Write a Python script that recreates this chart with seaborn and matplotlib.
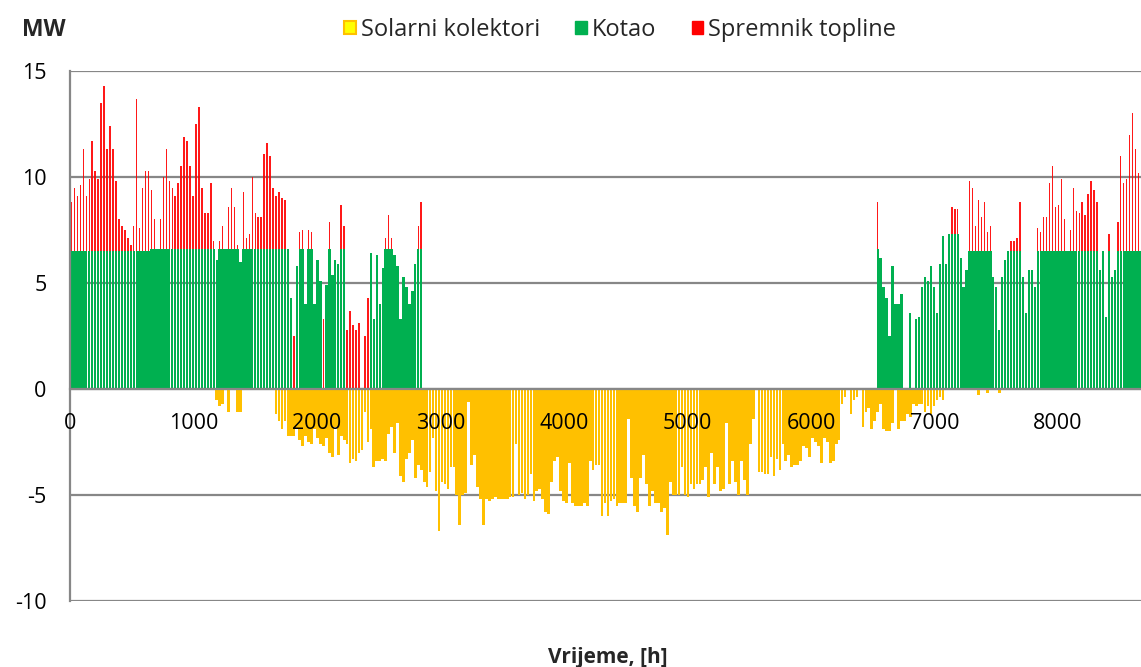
import numpy as np
import pandas as pd
import seaborn as sns
import matplotlib
matplotlib.use("Agg")
import matplotlib.pyplot as plt
from matplotlib.patches import Patch

# Daily peak output over the year (MW), one value per day
kotao = [
    6.5, 6.5, 6.5, 6.5, 6.5, 6.5, 6.5, 6.5, 6.5, 6.5,
    6.5, 6.5, 6.5, 6.5, 6.5, 6.5, 6.5, 6.5, 6.5, 6.5,
    6.5, 6.5, 6.5, 6.5, 6.5, 6.5, 6.5, 6.6, 6.6, 6.6,
    6.6, 6.6, 6.6, 6.6, 6.6, 6.6, 6.6, 6.6, 6.6, 6.6,
    6.6, 6.6, 6.6, 6.6, 6.6, 6.6, 6.6, 6.6, 6.6, 6.1,
    6.6, 6.6, 6.6, 6.6, 6.6, 6.6, 6.6, 6.0, 6.6, 6.6,
    6.6, 6.6, 6.6, 6.6, 6.6, 6.6, 6.6, 6.6, 6.6, 6.6,
    6.6, 6.6, 6.6, 6.6, 4.3, 0.0, 5.8, 6.6, 6.6, 4.0,
    6.6, 6.6, 4.0, 6.1, 5.1, 0.0, 4.9, 6.6, 5.4, 6.1,
    5.9, 6.6, 6.6, 0.0, 0.0, 0.0, 0.0, 0.0, 0.0, 0.0,
    0.0, 6.4, 3.3, 6.3, 4.0, 5.7, 6.6, 6.6, 6.6, 6.3,
    5.8, 3.3, 5.3, 4.8, 4.0, 4.6, 5.9, 6.6, 6.6, 0.0,
    0.0, 0.0, 0.0, 0.0, 0.0, 0.0, 0.0, 0.0, 0.0, 0.0,
    0.0, 0.0, 0.0, 0.0, 0.0, 0.0, 0.0, 0.0, 0.0, 0.0,
    0.0, 0.0, 0.0, 0.0, 0.0, 0.0, 0.0, 0.0, 0.0, 0.0,
    0.0, 0.0, 0.0, 0.0, 0.0, 0.0, 0.0, 0.0, 0.0, 0.0,
    0.0, 0.0, 0.0, 0.0, 0.0, 0.0, 0.0, 0.0, 0.0, 0.0,
    0.0, 0.0, 0.0, 0.0, 0.0, 0.0, 0.0, 0.0, 0.0, 0.0,
    0.0, 0.0, 0.0, 0.0, 0.0, 0.0, 0.0, 0.0, 0.0, 0.0,
    0.0, 0.0, 0.0, 0.0, 0.0, 0.0, 0.0, 0.0, 0.0, 0.0,
    0.0, 0.0, 0.0, 0.0, 0.0, 0.0, 0.0, 0.0, 0.0, 0.0,
    0.0, 0.0, 0.0, 0.0, 0.0, 0.0, 0.0, 0.0, 0.0, 0.0,
    0.0, 0.0, 0.0, 0.0, 0.0, 0.0, 0.0, 0.0, 0.0, 0.0,
    0.0, 0.0, 0.0, 0.0, 0.0, 0.0, 0.0, 0.0, 0.0, 0.0,
    0.0, 0.0, 0.0, 0.0, 0.0, 0.0, 0.0, 0.0, 0.0, 0.0,
    0.0, 0.0, 0.0, 0.0, 0.0, 0.0, 0.0, 0.0, 0.0, 0.0,
    0.0, 0.0, 0.0, 0.0, 0.0, 0.0, 0.0, 0.0, 0.0, 0.0,
    0.0, 0.0, 6.6, 6.2, 4.8, 4.3, 2.5, 5.8, 4.0, 4.0,
    4.5, 0.0, 0.0, 3.6, 0.0, 3.3, 3.4, 4.8, 5.3, 5.1,
    5.8, 4.8, 3.6, 5.9, 7.2, 5.9, 7.3, 7.3, 7.3, 7.3,
    6.2, 4.8, 5.6, 6.5, 6.5, 6.5, 6.5, 6.5, 6.5, 6.5,
    6.5, 5.3, 4.8, 2.8, 5.3, 6.1, 6.5, 6.5, 6.5, 6.5,
    6.5, 5.3, 3.6, 5.6, 5.6, 4.8, 6.5, 6.5, 6.5, 6.5,
    6.5, 6.5, 6.5, 6.5, 6.5, 6.5, 6.5, 6.5, 6.5, 6.5,
    6.5, 6.5, 6.5, 6.5, 6.5, 6.5, 6.5, 5.6, 6.5, 3.4,
    6.5, 5.3, 5.6, 6.5, 6.5, 6.5, 6.5, 6.5, 6.5, 6.5,
    6.5, 6.5, 6.5, 6.5, 6.5,
]

spremnik = [
    2.3, 3.0, 2.6, 3.1, 4.8, 2.6, 3.4, 5.2, 3.8, 3.4,
    7.0, 7.8, 4.8, 5.9, 4.8, 3.3, 1.5, 1.2, 1.0, 0.6,
    0.3, 1.2, 7.2, 1.1, 3.0, 3.8, 3.8, 2.8, 1.4, 0.0,
    1.4, 3.4, 4.7, 3.2, 2.9, 2.5, 3.1, 3.9, 5.3, 5.1,
    3.9, 2.5, 5.9, 6.7, 2.9, 1.7, 1.7, 3.1, 0.4, 0.0,
    0.4, 1.1, 0.0, 2.0, 2.9, 2.0, 0.2, 0.0, 2.7, 0.5,
    0.7, 3.4, 1.7, 1.5, 1.5, 4.5, 5.0, 4.4, 2.9, 2.5,
    2.7, 2.4, 2.3, 0.0, 0.0, 2.5, 0.0, 0.8, 0.9, 0.0,
    0.9, 0.8, 0.0, 0.0, 0.0, 3.3, 0.0, 1.3, 0.0, 0.0,
    0.0, 2.1, 1.1, 2.8, 3.7, 3.0, 2.8, 3.1, 0.0, 2.5,
    4.3, 0.0, 0.0, 0.0, 0.0, 0.0, 0.5, 1.6, 0.5, 0.0,
    0.0, 0.0, 0.0, 0.0, 0.0, 0.0, 0.0, 1.1, 2.2, 0.0,
    0.0, 0.0, 0.0, 0.0, 0.0, 0.0, 0.0, 0.0, 0.0, 0.0,
    0.0, 0.0, 0.0, 0.0, 0.0, 0.0, 0.0, 0.0, 0.0, 0.0,
    0.0, 0.0, 0.0, 0.0, 0.0, 0.0, 0.0, 0.0, 0.0, 0.0,
    0.0, 0.0, 0.0, 0.0, 0.0, 0.0, 0.0, 0.0, 0.0, 0.0,
    0.0, 0.0, 0.0, 0.0, 0.0, 0.0, 0.0, 0.0, 0.0, 0.0,
    0.0, 0.0, 0.0, 0.0, 0.0, 0.0, 0.0, 0.0, 0.0, 0.0,
    0.0, 0.0, 0.0, 0.0, 0.0, 0.0, 0.0, 0.0, 0.0, 0.0,
    0.0, 0.0, 0.0, 0.0, 0.0, 0.0, 0.0, 0.0, 0.0, 0.0,
    0.0, 0.0, 0.0, 0.0, 0.0, 0.0, 0.0, 0.0, 0.0, 0.0,
    0.0, 0.0, 0.0, 0.0, 0.0, 0.0, 0.0, 0.0, 0.0, 0.0,
    0.0, 0.0, 0.0, 0.0, 0.0, 0.0, 0.0, 0.0, 0.0, 0.0,
    0.0, 0.0, 0.0, 0.0, 0.0, 0.0, 0.0, 0.0, 0.0, 0.0,
    0.0, 0.0, 0.0, 0.0, 0.0, 0.0, 0.0, 0.0, 0.0, 0.0,
    0.0, 0.0, 0.0, 0.0, 0.0, 0.0, 0.0, 0.0, 0.0, 0.0,
    0.0, 0.0, 0.0, 0.0, 0.0, 0.0, 0.0, 0.0, 0.0, 0.0,
    0.0, 0.0, 2.2, 0.0, 0.0, 0.0, 0.0, 0.0, 0.0, 0.0,
    0.0, 0.0, 0.0, 0.0, 0.0, 0.0, 0.0, 0.0, 0.0, 0.0,
    0.0, 0.0, 0.0, 0.0, 0.0, 0.0, 0.0, 1.3, 1.2, 1.2,
    0.0, 0.0, 0.0, 3.3, 3.0, 1.2, 2.4, 1.6, 2.3, 0.9,
    1.2, 0.0, 0.0, 0.0, 0.0, 0.0, 0.0, 0.5, 0.5, 0.6,
    2.3, 0.0, 0.0, 0.0, 0.0, 0.0, 1.1, 0.9, 1.6, 1.6,
    3.2, 4.0, 2.1, 2.2, 3.4, 1.5, 0.0, 1.0, 3.0, 1.9,
    1.8, 2.3, 1.7, 2.7, 3.3, 2.9, 2.3, 0.0, 0.0, 0.0,
    0.8, 0.0, 0.0, 1.4, 4.5, 3.2, 3.4, 5.5, 6.5, 4.8,
    3.7, 3.4, 3.0, 2.6, 2.5,
]

solarni = [
    0.0, 0.0, 0.0, 0.0, 0.0, 0.0, 0.0, 0.0, 0.0, 0.0,
    0.0, 0.0, 0.0, 0.0, 0.0, 0.0, 0.0, 0.0, 0.0, 0.0,
    0.0, 0.0, 0.0, 0.0, 0.0, 0.0, 0.0, 0.0, 0.0, 0.0,
    0.0, 0.0, 0.0, 0.0, 0.0, 0.0, 0.0, 0.0, 0.0, 0.0,
    0.0, 0.0, 0.0, 0.0, 0.0, 0.0, 0.0, 0.0, 0.0, -0.5,
    -0.8, -0.7, 0.0, -1.1, 0.0, 0.0, -1.1, -1.1, 0.0, 0.0,
    0.0, 0.0, 0.0, 0.0, 0.0, 0.0, 0.0, 0.0, 0.0, -1.2,
    -1.5, -1.9, -1.5, -2.2, -2.2, -2.2, -1.9, -2.4, -2.7, -2.2,
    -2.5, -2.6, -1.9, -2.3, -2.6, -2.7, -2.3, -3.0, -3.2, -1.8,
    -3.1, -2.2, -2.4, -2.6, -3.5, -3.3, -3.4, -3.0, -2.9, -1.1,
    -2.5, -1.9, -3.7, -3.4, -3.4, -3.3, -3.4, -2.1, -1.8, -3.0,
    -1.6, -4.1, -4.4, -3.3, -3.0, -2.4, -4.2, -3.6, -3.8, -4.4,
    -4.6, -3.9, -2.3, -4.8, -6.7, -4.4, -4.5, -4.7, -3.7, -3.7,
    -5.0, -6.4, -5.0, -4.9, -0.6, -3.6, -3.1, -4.6, -5.2, -6.4,
    -5.2, -5.3, -5.2, -5.1, -5.2, -5.2, -5.2, -5.2, -5.1, -5.1,
    -2.6, -5.0, -4.9, -5.2, -5.0, -4.0, -5.3, -4.8, -4.7, -5.2,
    -5.8, -5.9, -4.4, -3.4, -3.2, -4.8, -5.3, -5.4, -3.5, -5.4,
    -5.5, -5.5, -5.5, -5.4, -5.5, -3.4, -3.8, -3.6, -3.6, -6.0,
    -5.4, -6.0, -5.3, -5.2, -5.5, -5.4, -5.4, -5.4, -1.4, -4.2,
    -5.5, -5.8, -4.2, -3.1, -4.5, -5.5, -4.8, -5.4, -5.4, -5.8,
    -5.6, -6.9, -4.4, -5.0, -5.0, -5.0, -3.7, -5.0, -5.1, -4.5,
    -4.7, -4.5, -4.5, -4.3, -3.7, -5.1, -3.0, -4.5, -3.7, -4.8,
    -4.7, -1.6, -4.5, -3.4, -4.4, -5.0, -3.4, -4.3, -5.0, -2.6,
    -1.4, 0.0, -3.9, -3.9, -4.0, -4.0, -3.2, -4.1, -3.3, -3.8,
    -2.6, -3.4, -3.1, -3.7, -3.6, -3.6, -3.4, -2.7, -2.8, -3.2,
    -2.3, -2.5, -2.7, -3.5, -2.3, -2.5, -3.5, -3.4, -2.6, -2.4,
    -0.7, -0.4, 0.0, -1.2, -0.5, -0.4, 0.0, -1.8, -1.1, -0.9,
    -1.9, -1.5, -1.1, -0.7, -1.9, -2.0, -2.0, -1.6, 0.0, -1.9,
    -1.5, -1.5, -1.2, -1.3, -0.7, -0.8, -0.7, -0.7, -1.1, -0.8,
    -1.2, -0.8, -0.5, -0.4, -0.5, 0.0, 0.0, 0.0, 0.0, 0.0,
    0.0, 0.0, 0.0, 0.0, 0.0, 0.0, -0.3, 0.0, 0.0, -0.2,
    0.0, 0.0, 0.0, -0.2, 0.0, 0.0, 0.0, 0.0, 0.0, 0.0,
    0.0, 0.0, 0.0, 0.0, 0.0, 0.0, 0.0, 0.0, 0.0, 0.0,
    0.0, 0.0, 0.0, 0.0, 0.0, 0.0, 0.0, 0.0, 0.0, 0.0,
    0.0, 0.0, 0.0, 0.0, 0.0, 0.0, 0.0, 0.0, 0.0, 0.0,
    0.0, 0.0, 0.0, 0.0, 0.0, 0.0, 0.0, 0.0, 0.0, 0.0,
    0.0, 0.0, 0.0, 0.0, 0.0,
]

series_names = ["Solarni kolektori", "Kotao", "Spremnik topline"]
x_ticks = [0, 1000, 2000, 3000, 4000, 5000, 6000, 7000, 8000]
y_ticks = [-10, -5, 0, 5, 10, 15]

# Each daily value sits at the middle of its day on the hour axis
hours = np.arange(len(kotao)) * 24 + 12
df = pd.DataFrame({
    "sat": hours,
    "kotao": kotao,
    "spremnik": spremnik,
    "solarni": solarni,
})
df["ukupno"] = df["kotao"] + df["spremnik"]

C_SOLAR = "#FFC000"
C_SOLAR_LEG = "#FFFF00"
C_KOTAO = "#00B050"
C_SPREM = "#FF0000"
GRID = "#878787"

sns.set_theme(style="white")
plt.rcParams["font.family"] = ["Open Sans", "DejaVu Sans"]
plt.rcParams["axes.unicode_minus"] = False

fig = plt.figure(figsize=(11.41, 6.67), dpi=100)
ax = fig.add_axes([70 / 1141, 1 - 601 / 667, 1 - 70 / 1141, (601 - 71) / 667])

common = dict(x="sat", native_scale=True, orient="x",
              errorbar=None, saturation=1, linewidth=0, ax=ax)
# storage is stacked on top of the boiler: draw the total first, boiler over it
sns.barplot(data=df, y="ukupno", color=C_SPREM, width=0.5, alpha=0.9, **common)
sns.barplot(data=df, y="kotao", color=C_KOTAO, width=0.8, **common)
sns.barplot(data=df, y="solarni", color=C_SOLAR, width=0.9, **common)

ax.set_xlim(0, 8672)
ax.set_ylim(-10, 15)
ax.set_xticks(x_ticks)
ax.set_yticks(y_ticks)
ax.set_xlabel("")
ax.set_ylabel("")
ax.set_axisbelow(False)

for y in y_ticks:
    ax.axhline(y, color=GRID, lw=1.6, zorder=0.5)

for side in ["top", "right"]:
    ax.spines[side].set_visible(False)
ax.spines["left"].set_color(GRID)
ax.spines["left"].set_linewidth(1.6)
ax.spines["bottom"].set_position(("data", 0))
ax.spines["bottom"].set_color(GRID)
ax.spines["bottom"].set_linewidth(1.6)
ax.spines["bottom"].set_zorder(5)

ax.tick_params(axis="x", length=0, pad=17, labelsize=15.5, colors="black")
ax.tick_params(axis="y", length=0, pad=17, labelsize=15.5, colors="black")
ax.grid(False)

fig.text(22 / 1141, 1 - 30 / 667, "MW", fontsize=16.5, fontweight="bold",
         ha="left", va="center")
fig.text(608 / 1141, 1 - 657 / 667, "Vrijeme, [h]", fontsize=15,
         fontweight="bold", ha="center", va="center")

handles = [
    Patch(facecolor=C_SOLAR_LEG, edgecolor=C_SOLAR, linewidth=1.5),
    Patch(facecolor=C_KOTAO, edgecolor=C_KOTAO),
    Patch(facecolor=C_SPREM, edgecolor=C_SPREM),
]
fig.legend(handles, series_names, loc="center left",
           bbox_to_anchor=(344 / 1141, 1 - 30 / 667), ncol=3, frameon=False,
           fontsize=17, handlelength=0.5, handleheight=0.5,
           handletextpad=0.2, columnspacing=1.5, borderpad=0, borderaxespad=0)

fig.savefig("out.png", dpi=100)
